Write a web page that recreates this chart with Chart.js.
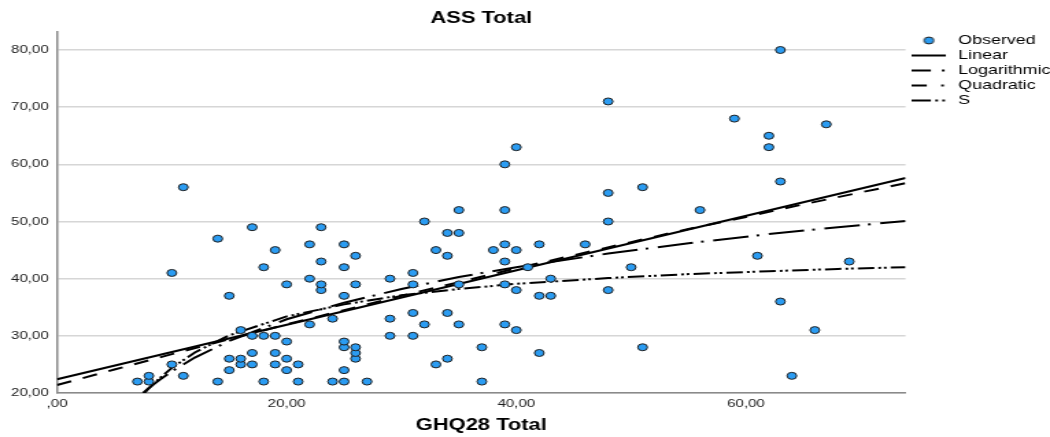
<!DOCTYPE html>
<html>
<head>
<meta charset="utf-8">
<title>ASS Total</title>
<script src="https://cdn.jsdelivr.net/npm/chart.js@4.4.1/dist/chart.umd.min.js"></script>
<style>
    body { margin: 0; background: #fff; }
</style>
</head>
<body>
<!-- the original picture is stretched sideways, so the canvas is drawn narrow and widened by css -->
<canvas id="grafico" width="766" height="437" style="width:1050px;height:437px;display:block"></canvas>
<script>
var observadoX = [7, 8, 8, 10, 10, 11, 11, 14, 14, 15, 15, 15, 16, 16, 16, 17, 17, 17, 17, 18,
    18, 18, 19, 19, 19, 19, 20, 20, 20, 20, 21, 21, 22, 22, 22, 23, 23, 23, 23, 24,
    24, 25, 25, 25, 25, 25, 25, 25, 26, 26, 26, 26, 26, 27, 29, 29, 29, 31, 31, 31,
    31, 32, 32, 33, 33, 34, 34, 34, 34, 35, 35, 35, 35, 37, 37, 38, 39, 39, 39, 39,
    39, 39, 40, 40, 40, 40, 41, 42, 42, 42, 43, 43, 46, 48, 48, 48, 48, 50, 51, 51,
    56, 59, 61, 62, 62, 63, 63, 63, 64, 66, 67, 69];
var observadoY = [22, 22, 23, 25, 41, 23, 56, 22, 47, 24, 26, 37, 25, 26, 31, 25, 27, 30, 49, 22,
    30, 42, 25, 27, 30, 45, 24, 26, 29, 39, 22, 25, 32, 40, 46, 38, 39, 43, 49, 22,
    33, 22, 24, 28, 29, 37, 42, 46, 26, 27, 28, 39, 44, 22, 30, 33, 40, 30, 34, 39,
    41, 32, 50, 25, 45, 26, 34, 44, 48, 32, 39, 48, 52, 22, 28, 45, 32, 39, 43, 46,
    52, 60, 31, 38, 45, 63, 42, 27, 37, 46, 37, 40, 46, 38, 50, 55, 71, 42, 28, 56,
    52, 68, 44, 63, 65, 36, 57, 80, 23, 31, 67, 43];

// fitted curves
var linealX = [0, 73.9];
var linealY = [22.4, 57.6];
var logX = [7.5, 8, 9, 10, 12, 15, 20, 25, 30, 35, 40, 48, 55, 62, 68, 73.9];
var logY = [20.0, 20.9, 22.4, 23.8, 26.2, 29.1, 32.9, 35.8, 38.2, 40.3, 42.0, 44.4, 46.2, 47.8, 49.0, 50.1];
var cuadX = [0, 5, 10, 15, 20, 25, 30, 35, 40, 45, 50, 55, 60, 65, 70, 73.9];
var cuadY = [21.4, 24.1, 26.8, 29.4, 32.0, 34.5, 37.0, 39.4, 41.8, 44.1, 46.4, 48.7, 50.8, 53.0, 55.1, 56.7];
var sX = [7.6, 8, 9, 10, 12, 15, 20, 25, 30, 35, 40, 48, 55, 62, 68, 73.9];
var sY = [20.0, 20.8, 22.7, 24.4, 27.1, 30.1, 33.4, 35.5, 37.1, 38.2, 39.1, 40.1, 40.8, 41.3, 41.7, 42.0];

var ticksY = [20, 30, 40, 50, 60, 70, 80];
var ticksX = [0, 20, 40, 60];
var nombres = ['Observed', 'Linear', 'Logarithmic', 'Quadratic', 'S'];

var fuente = "'Liberation Sans', Arial, sans-serif";

function aPuntos(xs, ys) {
    return xs.map(function (x, i) {
        return { x: x, y: ys[i] };
    });
}

function formatoComa(v) {
    return v === 0 ? ',00' : v.toFixed(2).replace('.', ',');
}

// small pictures for the legend, one per series
function muestra(tramos) {
    var c = document.createElement('canvas');
    c.width = 25;
    c.height = 6;
    var g = c.getContext('2d');
    g.fillStyle = '#000';
    tramos.forEach(function (t) {
        g.fillRect(t[0], 2, t[1] - t[0], 2);
    });
    return c;
}

function marcador() {
    var c = document.createElement('canvas');
    c.width = 10;
    c.height = 9;
    var g = c.getContext('2d');
    g.beginPath();
    g.arc(5, 4.5, 3.5, 0, Math.PI * 2);
    g.fillStyle = '#2b9cf2';
    g.fill();
    g.lineWidth = 1;
    g.strokeStyle = '#1f1f1f';
    g.stroke();
    return c;
}

var muestras = [
    marcador(),
    muestra([[0, 25]]),
    muestra([[0, 14], [22, 24]]),
    muestra([[0, 11], [21.5, 23.5]]),
    muestra([[0, 14], [17.2, 19.2], [22.3, 24.3]])
];

function curva(nombre, xs, ys, guiones) {
    return {
        label: nombre,
        data: aPuntos(xs, ys),
        showLine: true,
        borderColor: '#000',
        backgroundColor: '#000',
        borderWidth: 2,
        borderDash: guiones,
        pointRadius: 0,
        pointHoverRadius: 0,
        tension: 0
    };
}

var ctx = document.getElementById('grafico').getContext('2d');

window.grafico = new Chart(ctx, {
    type: 'scatter',
    data: {
        datasets: [{
            label: nombres[0],
            data: aPuntos(observadoX, observadoY),
            backgroundColor: '#2b9cf2',
            borderColor: '#1f1f1f',
            borderWidth: 1,
            pointRadius: 3.5,
            pointStyle: 'circle'
        },
            curva(nombres[1], linealX, linealY, []),
            curva(nombres[2], logX, logY, [26, 6, 2, 7]),
            curva(nombres[3], cuadX, cuadY, [11, 9]),
            curva(nombres[4], sX, sY, [12, 3, 2, 2, 2, 3])
        ]
    },
    options: {
        responsive: false,
        animation: false,
        devicePixelRatio: 1,
        layout: { padding: 0 },
        scales: {
            x: {
                type: 'linear',
                min: 0,
                max: 73.9,
                afterFit: function (escala) { escala.height = 44; },
                afterBuildTicks: function (escala) {
                    escala.ticks = ticksX.map(function (v) { return { value: v }; });
                },
                grid: { display: false, drawTicks: false },
                border: { display: true, color: '#8a8a8a', width: 1.5 },
                ticks: {
                    padding: 4,
                    color: '#1a1a1a',
                    font: { family: fuente, size: 11 },
                    callback: formatoComa
                },
                title: {
                    display: true,
                    text: 'GHQ28 Total',
                    color: '#000',
                    font: { family: fuente, size: 16, weight: 'bold' },
                    padding: { top: 0, bottom: 2 }
                }
            },
            y: {
                type: 'linear',
                min: 20,
                max: 83.15,
                afterFit: function (escala) { escala.width = 41.6; },
                afterBuildTicks: function (escala) {
                    escala.ticks = ticksY.map(function (v) { return { value: v }; });
                },
                grid: { color: '#d6d6d6', lineWidth: 1.5, drawTicks: false },
                border: { display: true, color: '#8a8a8a', width: 1.5 },
                ticks: {
                    padding: 6,
                    color: '#1a1a1a',
                    font: { family: fuente, size: 11 },
                    callback: formatoComa
                }
            }
        },
        plugins: {
            title: {
                display: true,
                text: 'ASS Total',
                fullSize: false,
                color: '#000',
                font: { family: fuente, size: 16, weight: 'bold' },
                padding: { top: 9, bottom: 3.8 }
            },
            legend: {
                position: 'right',
                align: 'start',
                fullSize: false,
                maxWidth: 105.4,
                labels: {
                    usePointStyle: true,
                    pointStyleWidth: 30,
                    padding: 2,
                    color: '#000',
                    font: { family: fuente, size: 13 },
                    generateLabels: function (chart) {
                        var items = Chart.defaults.plugins.legend.labels.generateLabels(chart);
                        items.forEach(function (it) {
                            it.pointStyle = muestras[it.datasetIndex];
                        });
                        return items;
                    }
                }
            },
            tooltip: { enabled: false }
        }
    }
});
</script>
</body>
</html>
